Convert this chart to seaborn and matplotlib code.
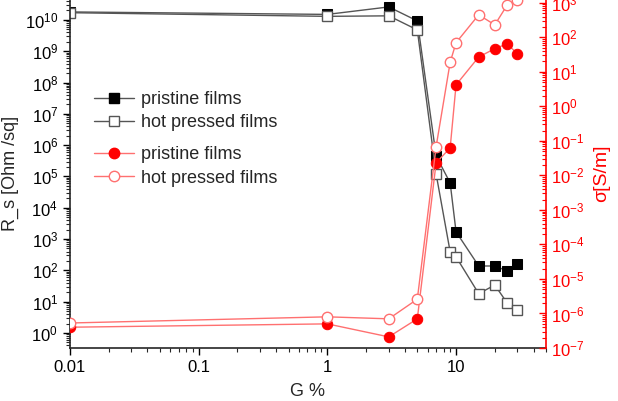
import numpy as np
import pandas as pd
import matplotlib
matplotlib.use("Agg")
import matplotlib.pyplot as plt
import matplotlib.ticker as mticker
from matplotlib.lines import Line2D
import seaborn as sns

# graphene content (G %)
g_pct = [0.01, 1, 3, 5, 7, 9, 10, 15, 20, 25, 30]

# sheet resistance R_s [Ohm/sq]
rs_pristine = [1.8e10, 1.5e10, 2.6e10, 9.3e9, 4.5e5, 6.2e4, 1.7e3, 138, 138, 96, 160]
rs_hot = [1.7e10, 1.3e10, 1.35e10, 4.8e9, 1.2e5, 390, 270, 18, 34, 9, 5.4]

# conductivity sigma [S/m]
sig_pristine = [4e-7, 5e-7, 2.1e-7, 7e-7, 0.023, 0.063, 4.2, 27, 47, 65, 33]
sig_hot = [5.3e-7, 8e-7, 7e-7, 2.6e-6, 0.068, 19, 70, 450, 230, 870, 1200]

df = pd.DataFrame({"G": g_pct, "rs_p": rs_pristine, "rs_h": rs_hot,
                   "sig_p": sig_pristine, "sig_h": sig_hot})

sns.set_style("ticks")
plt.rcParams['font.family'] = ['Liberation Sans', 'DejaVu Sans']
plt.rcParams['font.size'] = 12

RED = "#ff0000"
LRED = "#ff7070"
GREY = "#555555"

fig = plt.figure(figsize=(6.18, 4.01), dpi=100)
ax = fig.add_axes([70/618, 1-348/401, 476/618, 350/401])
ax2 = ax.twinx()

sns.lineplot(data=df, x="G", y="rs_p", ax=ax, color=GREY, lw=1,
             marker="s", markersize=6.5, markerfacecolor="black",
             markeredgecolor="black")
sns.lineplot(data=df, x="G", y="rs_h", ax=ax, color=GREY, lw=1,
             marker="s", markersize=6.5, markerfacecolor="white",
             markeredgecolor=GREY, markeredgewidth=1)
sns.lineplot(data=df, x="G", y="sig_p", ax=ax2, color=LRED, lw=1,
             marker="o", markersize=7.5, markerfacecolor=RED,
             markeredgecolor=RED)
sns.lineplot(data=df, x="G", y="sig_h", ax=ax2, color=LRED, lw=1,
             marker="o", markersize=7.5, markerfacecolor="white",
             markeredgecolor=LRED, markeredgewidth=1)

ax.set_xscale("log")
ax.set_yscale("log")
ax2.set_yscale("log")
ax.set_xlim(0.01, 50)
ax.set_ylim(10**-0.48, 10**10.70)
ax2.set_ylim(1e-7, 10**3.14)

ax.xaxis.set_major_locator(mticker.FixedLocator([0.01, 0.1, 1, 10]))
ax.xaxis.set_major_formatter(mticker.FixedFormatter(["0.01", "0.1", "1", "10"]))
ax.xaxis.set_minor_locator(mticker.LogLocator(base=10, subs=np.arange(2, 10)))
ax.xaxis.set_minor_formatter(mticker.NullFormatter())

ax.yaxis.set_major_locator(mticker.LogLocator(base=10, numticks=20))
ax.yaxis.set_minor_locator(mticker.LogLocator(base=10, subs=np.arange(2, 10), numticks=20))
ax.yaxis.set_minor_formatter(mticker.NullFormatter())
ax2.yaxis.set_major_locator(mticker.LogLocator(base=10, numticks=20))
ax2.yaxis.set_minor_locator(mticker.LogLocator(base=10, subs=np.arange(2, 10), numticks=20))
ax2.yaxis.set_minor_formatter(mticker.NullFormatter())

ax.tick_params(axis="both", which="major", direction="out", length=5, width=1,
               labelsize=12, colors="black")
ax.tick_params(axis="both", which="minor", direction="out", length=3, width=0.8)
ax2.tick_params(axis="y", which="major", direction="in", length=5, width=1,
                labelsize=12, colors=RED)
ax2.tick_params(axis="y", which="minor", direction="in", length=3, width=0.8,
                colors=RED)

for a in (ax, ax2):
    a.spines["top"].set_visible(False)
ax.spines["right"].set_visible(False)
ax2.spines["left"].set_visible(False)
ax2.spines["bottom"].set_visible(False)
ax2.spines["right"].set_color(RED)
ax2.spines["right"].set_linewidth(1.2)
ax.spines["left"].set_linewidth(1.2)
ax.spines["bottom"].set_linewidth(1.2)

ax.set_xlabel("G %", fontsize=13, labelpad=6)
ax.set_ylabel("R_s [Ohm /sq]", fontsize=13, labelpad=4)
ax2.set_ylabel("σ[S/m]", fontsize=14, color=RED, labelpad=6)

# legends: black group and red group
h_black = [
    Line2D([], [], color=GREY, lw=1, marker="s", markersize=6.5,
           markerfacecolor="black", markeredgecolor="black"),
    Line2D([], [], color=GREY, lw=1, marker="s", markersize=6.5,
           markerfacecolor="white", markeredgecolor=GREY),
]
h_red = [
    Line2D([], [], color=LRED, lw=1, marker="o", markersize=7.5,
           markerfacecolor=RED, markeredgecolor=RED),
    Line2D([], [], color=LRED, lw=1, marker="o", markersize=7.5,
           markerfacecolor="white", markeredgecolor=LRED),
]
labels = ["pristine films", "hot pressed films"]
leg_kw = dict(loc="upper left", frameon=False, fontsize=13, handlelength=2.2,
              handletextpad=0.4, labelspacing=0.35, borderaxespad=0)
leg1 = ax2.legend(h_black, labels, bbox_to_anchor=(0.035, 0.755), **leg_kw)
ax2.add_artist(leg1)
ax2.legend(h_red, labels, bbox_to_anchor=(0.035, 0.597), **leg_kw)

fig.savefig("out.png", dpi=100)
